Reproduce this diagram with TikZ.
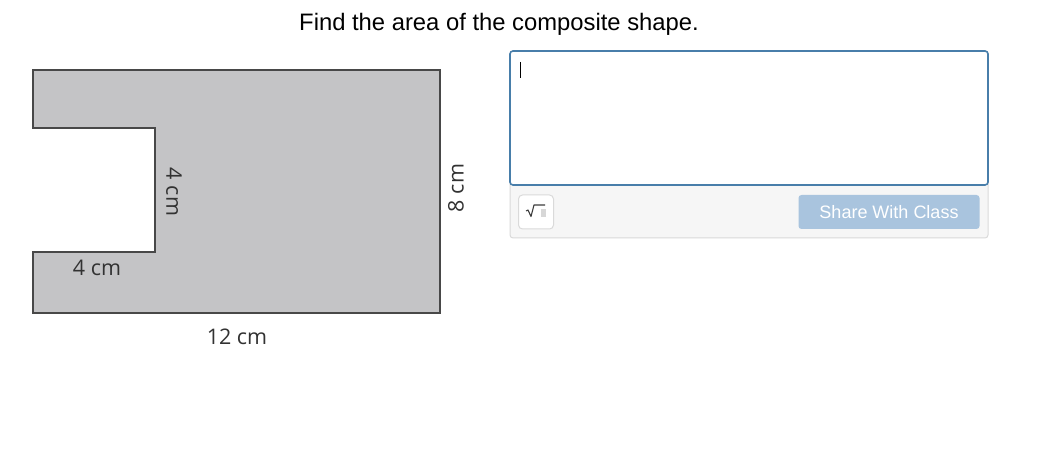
\documentclass[tikz,border=0pt]{standalone}
\usepackage{fontspec}
\setmainfont{Liberation Sans}
\newfontfamily\labelfont{Open Sans}
\definecolor{shapefill}{RGB}{196,196,198}
\definecolor{shapeline}{RGB}{72,72,72}
\definecolor{labeltext}{RGB}{50,50,50}
\definecolor{boxblue}{RGB}{72,126,170}
\definecolor{panelgray}{RGB}{246,246,246}
\definecolor{panelline}{RGB}{218,218,218}
\definecolor{sharebtn}{RGB}{169,196,222}
\definecolor{icongray}{RGB}{60,60,60}
\definecolor{iconbox}{RGB}{215,215,215}
\tikzset{
  dimlabel/.style={font=\labelfont\fontsize{21.5}{21.5}\selectfont, text=labeltext, inner sep=0pt},
  titletext/.style={font=\fontsize{23.8}{23.8}\selectfont, inner sep=0pt},
}
\begin{document}
\begin{tikzpicture}[x=1pt,y=-1pt]
\useasboundingbox[fill=white] (0,0) rectangle (1055,470);
% title
\node[titletext] (title) at (499,24) {Find the area of the composite shape.};
% composite shape
\draw[fill=shapefill, draw=shapeline, line width=2pt, line join=miter]
  (33,70) -- (440,70) -- (440,313) -- (33,313) -- (33,252) -- (155,252) -- (155,128) -- (33,128) -- cycle;
\node[dimlabel, rotate=-90] (lblnotch) at (174,192) {4 cm};
\node[dimlabel, rotate=90] (lblheight) at (456,188) {8 cm};
\node[dimlabel] (lblwidth) at (97,268) {4 cm};
\node[dimlabel] (lblbase) at (237,337) {12 cm};
% answer panel
\draw[fill=panelgray, draw=panelline, line width=1pt, rounded corners=3pt] (510,51) rectangle (988,238);
\draw[fill=white, draw=boxblue, line width=1.6pt, rounded corners=3pt] (510,51) rectangle (988,185);
\draw[black, line width=0.9pt] (520,62) -- (520,78);
% math button
\node[draw=panelline, fill=white, rounded corners=4pt, minimum width=35pt, minimum height=34pt, inner sep=0pt, line width=1pt] (mathbtn) at (536,212) {};
\fill[iconbox] (541,209) rectangle (546,217);
\draw[icongray, line width=1.1pt, line join=round] (526,211) -- (528,210) -- (531,216.5) -- (534,205) -- (545,205);
% share button
\node[fill=sharebtn, rounded corners=3pt, minimum width=181pt, minimum height=34pt, inner sep=0pt, text=white, font=\fontsize{18}{18}\selectfont] (sharebtn) at (889,212) {Share With Class};
\end{tikzpicture}
\end{document}
